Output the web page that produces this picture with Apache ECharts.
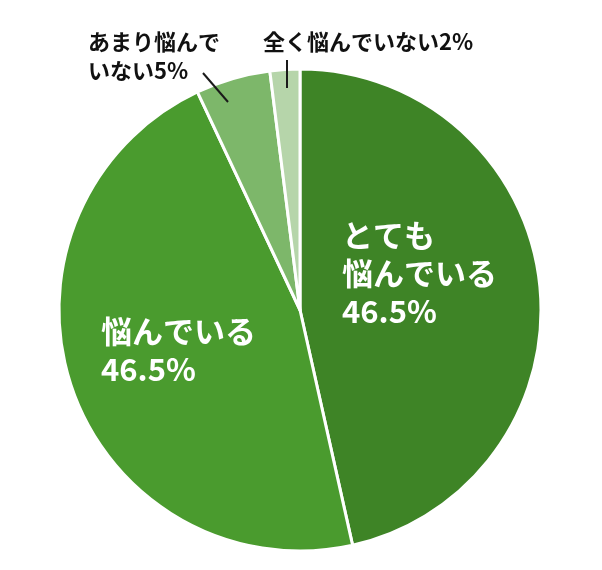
<!DOCTYPE html>
<html>
<head>
<meta charset="utf-8">
<script src="https://cdn.jsdelivr.net/npm/echarts@6/dist/echarts.min.js"></script>
<style>
    html, body { margin: 0; padding: 0; background: #fff; }
    #main { width: 602px; height: 570px; }
</style>
</head>
<body>
<div id="main"></div>
<script>
// data
const names = ['とても\n悩んでいる', '悩んでいる', 'あまり悩んで\nいない', '全く悩んでいない'];
const values = [46.5, 46.5, 5, 2];
const colors = ['#3e8426', '#4a9b2e', '#7db76a', '#b6d5aa'];

// label positions (left / top) and leader lines
const labelPos = [[342, 216], [101, 312], [88, 27], [263, 27]];
const leaderLines = [[[228, 102], [203, 73]], [[287, 88], [287, 60]]];

let myChart = echarts.init(document.getElementById('main'));

let data = values.map((v, i) => {
    let inside = i < 2;
    return {
        name: names[i],
        value: v,
        itemStyle: { color: colors[i] },
        label: inside ? {
            position: 'inside',
            color: '#fff',
            fontSize: 31,
            lineHeight: 38,
            fontWeight: 'bold'
        } : {
            position: 'outside',
            color: '#111',
            fontSize: 22,
            lineHeight: 29,
            fontWeight: 'bold'
        },
        labelLine: { show: false }
    };
});

let option = {
    animation: false,
    textStyle: { fontFamily: '"Noto Sans CJK JP", "Noto Sans", sans-serif' },
    graphic: leaderLines.map(pts => ({
        type: 'polyline',
        z: 100,
        shape: { points: pts },
        style: { stroke: '#1a1a1a', lineWidth: 2, fill: null }
    })),
    series: [
        {
            type: 'pie',
            center: [300, 310],
            radius: 241,
            startAngle: 90,
            clockwise: true,
            itemStyle: { borderColor: '#fff', borderWidth: 3 },
            label: {
                formatter: p => p.name + (p.dataIndex < 2 ? '\n' : '') + p.value + '%',
                fontFamily: '"Noto Sans CJK JP", sans-serif',
                overflow: 'none'
            },
            labelLayout: function(params) {
                let i = params.dataIndex;
                return {
                    x: labelPos[i][0],
                    y: labelPos[i][1],
                    align: 'left',
                    verticalAlign: 'top',
                    width: 300
                };
            },
            data: data
        }
    ]
};
myChart.setOption(option);
</script>
</body>
</html>
